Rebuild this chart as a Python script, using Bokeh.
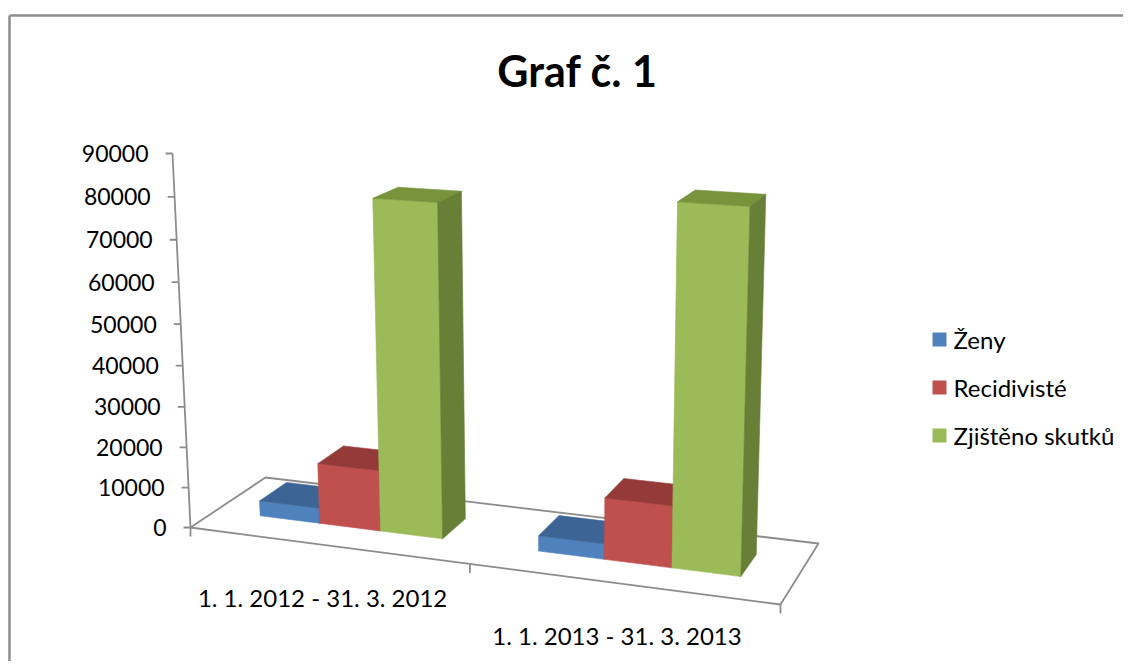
from bokeh.plotting import figure
from bokeh.models import Range1d
from bokeh.core.properties import value
from bokeh.embed import file_html
from bokeh.resources import INLINE

# ---------------- data ----------------
title = "Graf č. 1"
categories = ["1. 1. 2012 - 31. 3. 2012", "1. 1. 2013 - 31. 3. 2013"]
series = ["Ženy", "Recidivisté", "Zjištěno skutků"]
zeny = [3800, 3700]
recidiviste = [15000, 14700]
zjisteno_skutku = [80000, 83600]
y_ticks = [0, 10000, 20000, 30000, 40000, 50000, 60000, 70000, 80000, 90000]
y_max = 90000

# ---------------- style ----------------
FONT = "Lato"
front_col = ["#4F81BD", "#C0504D", "#9BBB59"]
top_col = ["#3C6494", "#943A38", "#77933C"]
side_col = ["#3A5E8C", "#8E3532", "#677F36"]
axis_col = "#8C8C8C"

# perspective camera (columns of a 3x4 projective matrix; page pixels)
P1 = (511.61, 16.30, -0.1005)   # category direction (floor width)
P2 = (-26.08, -381.19, -0.047)  # value direction (0..y_max)
P3 = (94.56, -14.80, 0.0738)    # depth direction
P4 = (190.0, 527.0, 1.0)        # origin: floor front-left corner


def proj(X, Y, Z):
    h = [X * P1[i] + Y * P2[i] + Z * P3[i] + P4[i] for i in range(3)]
    return h[0] / h[2], h[1] / h[2]


W, H = 1123, 661
p = figure(width=W, height=H, x_range=Range1d(0, W), y_range=Range1d(H, 0),
           output_backend="svg", toolbar_location=None, min_border=0)
p.axis.visible = False
p.grid.visible = False
p.outline_line_color = None
p.background_fill_color = "white"

# outer chart frame
p.line([9, W + 5], [15, 15], line_color="#8C8C8C", line_width=2.5)
p.line([9, 9], [15, H + 5], line_color="#8C8C8C", line_width=2.5)

# floor
corners = [(0, 0), (1, 0), (1, 1), (0, 1), (0, 0)]
fx, fy = zip(*[proj(cx, 0, cz) for cx, cz in corners])
p.line(list(fx), list(fy), line_color=axis_col, line_width=1.8)

# category tick marks on the floor front edge
for X in [0, 0.5, 1.0]:
    tx, ty = proj(X, 0, 0)
    p.line([tx, tx], [ty, ty + 9], line_color=axis_col, line_width=1.8)

# value axis
ax0 = proj(0, 0, 0)
ax1 = proj(0, 1, 0)
p.line([ax0[0], ax1[0]], [ax0[1], ax1[1]], line_color=axis_col, line_width=1.8)
lx, ly, lt = [], [], []
for v in y_ticks:
    tx, ty = proj(0, v / y_max, 0)
    p.line([tx - 7, tx], [ty, ty], line_color=axis_col, line_width=1.8)
    lx.append(tx - 24)
    ly.append(ty)
    lt.append(str(v))
p.text(lx, ly, text=lt, text_font=value(FONT), text_font_size="23px",
       text_align="right", text_baseline="middle", text_color="black")

# bars (3D, painter's order: left to right)
values = [zeny, recidiviste, zjisteno_skutku]
n_series = len(series)
bw = 0.5 / (n_series + 1.5)
z0, z1 = 0.33, 0.70
for c in range(len(categories)):
    for k in range(n_series):
        x0 = c * 0.5 + bw * (0.75 + k)
        x1 = x0 + bw
        s = values[k][c] / y_max
        faces = [
            ([(x0, 0, z0), (x1, 0, z0), (x1, s, z0), (x0, s, z0)], front_col[k]),
            ([(x0, s, z0), (x1, s, z0), (x1, s, z1), (x0, s, z1)], top_col[k]),
            ([(x1, 0, z0), (x1, 0, z1), (x1, s, z1), (x1, s, z0)], side_col[k]),
        ]
        xs, ys, cols = [], [], []
        for pts, col in faces:
            pp = [proj(*q) for q in pts]
            xs.append([q[0] for q in pp])
            ys.append([q[1] for q in pp])
            cols.append(col)
        p.patches(xs, ys, fill_color=cols, line_color=cols, line_width=0.6)

# category labels
cx, cy = [], []
for c in range(len(categories)):
    tx, ty = proj(0.25 + 0.5 * c, 0, 0)
    cx.append(tx - 4)
    cy.append(ty + 52)
p.text(cx, cy, text=categories, text_font=value(FONT), text_font_size="24px",
       text_align="center", text_baseline="middle", text_color="black")

# title
p.text([577], [70], text=[title], text_font=value(FONT), text_font_size="43px",
       text_font_style="bold", text_align="center", text_baseline="middle",
       text_color="black")

# legend
leg_y = [339, 387, 435]
p.rect([939] * 3, leg_y, width=14, height=14, fill_color=front_col, line_color=None)
p.text([953] * 3, leg_y, text=series, text_font=value(FONT), text_font_size="24px",
       text_align="left", text_baseline="middle", text_color="black")

open("out.html", "w").write(file_html(p, INLINE))
